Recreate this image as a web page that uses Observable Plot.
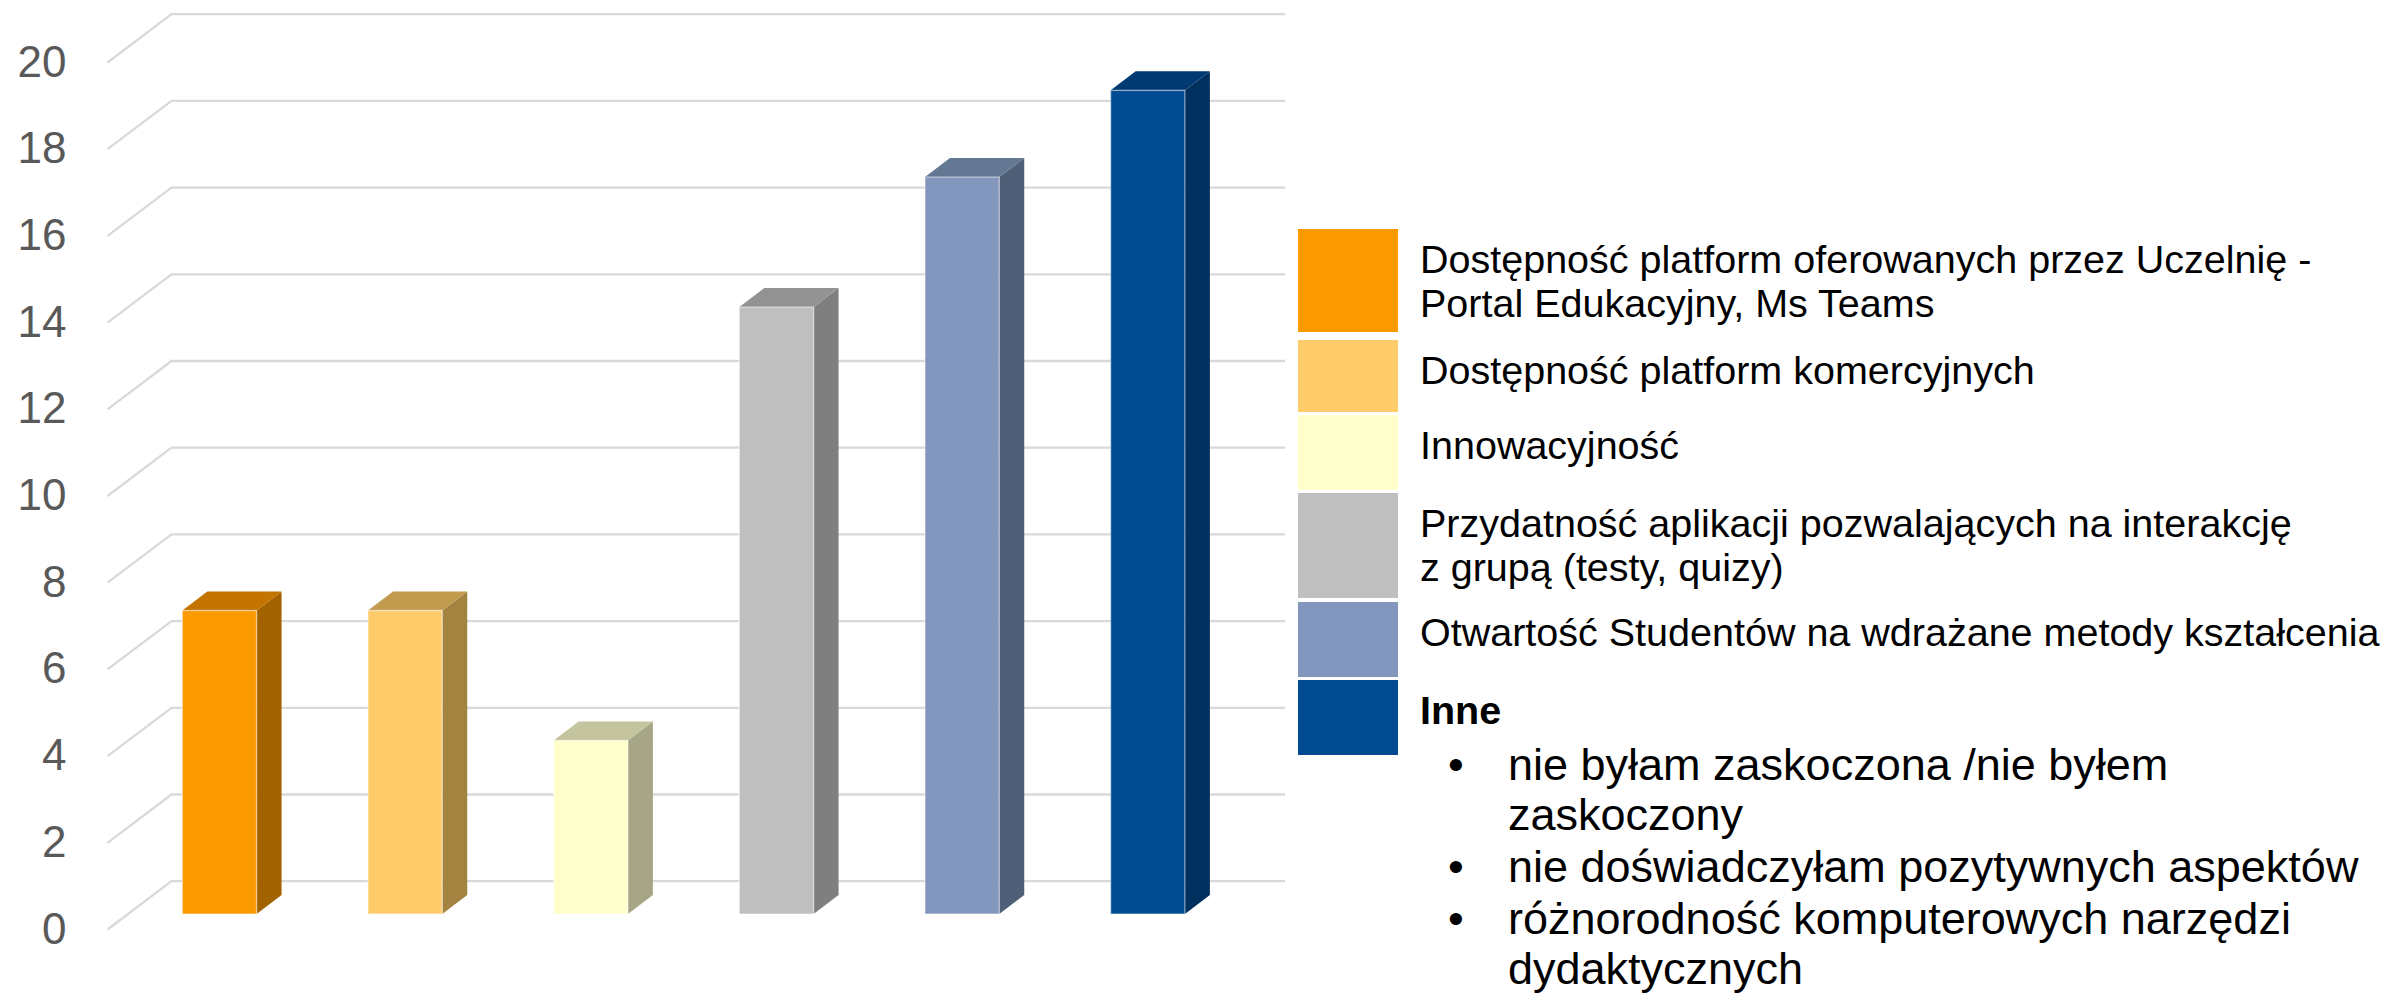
<!DOCTYPE html>
<html>
<head>
<meta charset="utf-8">
<script src="https://cdn.jsdelivr.net/npm/d3@7"></script>
<script src="https://cdn.jsdelivr.net/npm/@observablehq/plot@0.6"></script>
<style>
  body { margin: 0; background: #fff; }
  #wrap { position: relative; width: 2387px; height: 993px; overflow: hidden; font-family: "Liberation Sans", Arial, sans-serif; }
  #chart { position: absolute; left: 0; top: 0; }
  #legend { position: absolute; left: 1298px; top: 229px; color: #000; }
  .row { display: flex; align-items: flex-start; position: relative; }
  .sw { width: 100px; flex: none; }
  .lab { margin-left: 22px; padding-top: 8px; font-size: 39.5px; line-height: 44px; white-space: pre; }
  .lab b { font-weight: bold; }
  ul { list-style: none; margin: 8px 0 0 0; padding: 0; }
  li { display: flex; font-size: 45px; line-height: 50px; margin-bottom: 2px; white-space: pre; }
  li .dot { width: 88px; flex: none; padding-left: 28px; box-sizing: border-box; }
</style>
</head>
<body>
<div id="wrap">
  <div id="chart"></div>
  <div id="legend"></div>
</div>
<script>
// ---- data ----
const categories = [
  "Dostępność platform oferowanych przez Uczelnię -\nPortal Edukacyjny, Ms Teams",
  "Dostępność platform komercyjnych",
  "Innowacyjność",
  "Przydatność aplikacji pozwalających na interakcję\nz grupą (testy, quizy)",
  "Otwartość Studentów na wdrażane metody kształcenia",
  "Inne"
];
const values = [7, 7, 4, 14, 17, 19];
const frontColors = ["#FB9900", "#FDCB69", "#FFFFCC", "#BFBFBF", "#8396BE", "#004A91"];
const sideColors  = ["#A36200", "#A48341", "#A6A686", "#7F7F7F", "#4F5F78", "#00305E"];
const topColors   = ["#C47400", "#C29B4F", "#C4C49E", "#939393", "#647894", "#003A72"];
const yTicks = [0, 2, 4, 6, 8, 10, 12, 14, 16, 18, 20];
const inneItems = [
  "nie byłam zaskoczona /nie byłem\nzaskoczony",
  "nie doświadczyłam pozytywnych aspektów",
  "różnorodność komputerowych narzędzi\ndydaktycznych"
];

// ---- layout ----
const W = 1290, H = 993;
const mL = 107, mR = 69, mT = 62, mB = 64;
const xDomain = [-0.5, categories.length - 0.5];
const yDomain = [0, 20];
const pxX = (W - mL - mR) / (xDomain[1] - xDomain[0]);
const pxY = (H - mT - mB) / (yDomain[1] - yDomain[0]);
const wallDX = 64, wallDY = -48.3;     // front plane -> back wall (px)
const barDX = 19.6, barDY = -15;       // front plane -> bar front face (px)
const depthDX = 25, depthDY = -19;     // bar depth (px)
const hw = 0.2;                        // half bar width (x units)
const dU = depthDX / pxX, eU = -depthDY / pxY;
const grid = "#D9D9D9";

const bars = categories.map((c, i) => ({i, v: values[i], front: frontColors[i], side: sideColors[i], top: topColors[i]}));
const sidePts = bars.flatMap(b => [
  {i: b.i, x: b.i + hw, y1: 0, y2: b.v, fill: b.side},
  {i: b.i, x: b.i + hw + dU, y1: eU, y2: b.v + eU, fill: b.side}
]);
const topPts = bars.flatMap(b => [
  {i: b.i, y: b.v, x1: b.i - hw, x2: b.i + hw, fill: b.top},
  {i: b.i, y: b.v + eU, x1: b.i - hw + dU, x2: b.i + hw + dU, fill: b.top}
]);

const plot = Plot.plot({
  width: W, height: H,
  marginLeft: mL, marginRight: mR, marginTop: mT, marginBottom: mB,
  x: {type: "linear", domain: xDomain, axis: null},
  y: {domain: yDomain, axis: null},
  color: {type: "identity"},
  style: {fontFamily: "Liberation Sans, Arial, sans-serif", color: "#595959", background: "white", overflow: "visible"},
  marks: [
    Plot.ruleY(yTicks, {dx: wallDX, dy: wallDY, stroke: grid, strokeWidth: 2.3}),
    Plot.link(yTicks, {x1: () => xDomain[0], x2: () => xDomain[0] + wallDX / pxX, y1: d => d, y2: d => d - wallDY / pxY, stroke: grid, strokeWidth: 2.3}),
    Plot.axisY({ticks: yTicks, tickSize: 0, tickPadding: 41, fontSize: 44, label: null, tickFormat: d => String(d)}),
    Plot.areaY(sidePts, {x: "x", y1: "y1", y2: "y2", z: "i", fill: "fill", dx: barDX, dy: barDY}),
    Plot.areaX(topPts, {y: "y", x1: "x1", x2: "x2", z: "i", fill: "fill", dx: barDX, dy: barDY}),
    Plot.rectY(bars, {x1: d => d.i - hw, x2: d => d.i + hw, y1: 0, y2: d => d.v, fill: "front", stroke: "white", strokeOpacity: 0.4, strokeWidth: 1.5, dx: barDX, dy: barDY})
  ]
});
document.getElementById("chart").appendChild(plot);

// ---- legend ----
const rowHeights = [103, 72, 75, 105, 75, 75];
const rowGaps = [8, 3, 3, 4, 3, 0];
const legend = document.getElementById("legend");
categories.forEach((c, i) => {
  const row = document.createElement("div");
  row.className = "row";
  row.style.height = rowHeights[i] + "px";
  row.style.marginBottom = rowGaps[i] + "px";
  const sw = document.createElement("div");
  sw.className = "sw";
  sw.style.height = rowHeights[i] + "px";
  sw.style.background = frontColors[i];
  row.appendChild(sw);
  const lab = document.createElement("div");
  lab.className = "lab";
  if (i === categories.length - 1) {
    const b = document.createElement("b");
    b.textContent = c;
    lab.appendChild(b);
    const ul = document.createElement("ul");
    inneItems.forEach(t => {
      const li = document.createElement("li");
      const dot = document.createElement("span");
      dot.className = "dot";
      dot.textContent = "•";
      const tx = document.createElement("span");
      tx.textContent = t;
      li.appendChild(dot); li.appendChild(tx);
      ul.appendChild(li);
    });
    lab.appendChild(ul);
  } else {
    lab.textContent = c;
  }
  row.appendChild(lab);
  legend.appendChild(row);
});
</script>
</body>
</html>
